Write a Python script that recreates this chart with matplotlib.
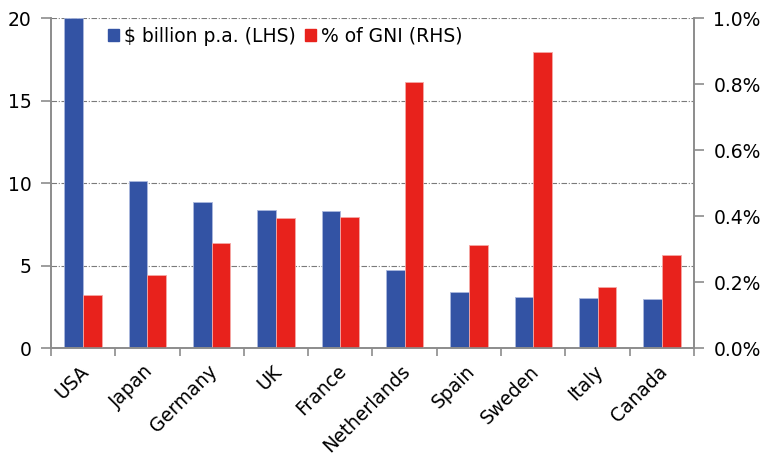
import matplotlib.pyplot as plt
from matplotlib.patches import Patch
from matplotlib.ticker import FuncFormatter
from matplotlib.transforms import ScaledTranslation
import numpy as np

plt.rcParams['font.family'] = ['DejaVu Sans']

countries = ['USA', 'Japan', 'Germany', 'UK', 'France', 'Netherlands',
             'Spain', 'Sweden', 'Italy', 'Canada']
billions = [20.0, 10.1, 8.83, 8.38, 8.3, 4.75, 3.39, 3.11, 3.05, 2.95]
pct_gni = [0.162, 0.22, 0.318, 0.393, 0.397, 0.807, 0.312, 0.898, 0.186, 0.282]

blue = '#3353A4'
red = '#E8221C'
axis_grey = '#8c8c8c'
fs = 13.5

fig = plt.figure(figsize=(7.63, 4.57), dpi=100)
ax = fig.add_axes([0.0668, 0.2385, 0.8428, 0.7221])
ax2 = ax.twinx()

x = np.arange(len(countries))
w = 0.29
ax.bar(x - w / 2, billions, w, color=blue, edgecolor='#aab8dd', linewidth=0.6, zorder=2)
ax2.bar(x + w / 2, pct_gni, w, color=red, edgecolor='#f5a8a5', linewidth=0.6, zorder=2)

ax.set_xlim(-0.5, len(countries) - 0.5)
ax.set_ylim(0, 20)
ax2.set_ylim(0, 1.0)
ax.set_yticks([0, 5, 10, 15, 20])
ax2.set_yticks([0, 0.2, 0.4, 0.6, 0.8, 1.0])
ax2.yaxis.set_major_formatter(FuncFormatter(lambda v, p: '%.1f%%' % v))

ax.set_axisbelow(True)
ax.yaxis.grid(True, color='#7a7a7a', linestyle=(0, (5, 1.5, 1, 1.5)), linewidth=0.8)

# category labels between boundary ticks
ax.set_xticks(x)
ax.set_xticklabels(countries, rotation=45, ha='right', rotation_mode='anchor', fontsize=fs)
ax.tick_params(axis='x', length=0, pad=12)
shift = ScaledTranslation(-4 / 100, 3 / 100, fig.dpi_scale_trans)
for lbl in ax.get_xticklabels():
    lbl.set_transform(lbl.get_transform() + shift)
ax.set_xticks(np.arange(len(countries) + 1) - 0.5, minor=True)
ax.tick_params(axis='x', which='minor', length=6, color=axis_grey, width=1.2)

ax.tick_params(axis='y', labelsize=fs, length=7, color=axis_grey, width=1.2, pad=7)
ax2.tick_params(axis='y', labelsize=fs, length=7, color=axis_grey, width=1.2, pad=7)

for a in (ax, ax2):
    a.spines['top'].set_visible(False)
    for s in ('left', 'right', 'bottom'):
        a.spines[s].set_color(axis_grey)
        a.spines[s].set_linewidth(1.2)

handles = [Patch(color=blue, label='$ billion p.a. (LHS)'),
           Patch(color=red, label='% of GNI (RHS)')]
ax2.legend(handles=handles, loc='center left', bbox_to_anchor=(0.088, 0.945),
           ncol=2, frameon=False, fontsize=fs, handlelength=0.6, handleheight=0.6,
           handletextpad=0.3, columnspacing=0.45, borderpad=0, borderaxespad=0)

fig.savefig('out.png', dpi=100)
